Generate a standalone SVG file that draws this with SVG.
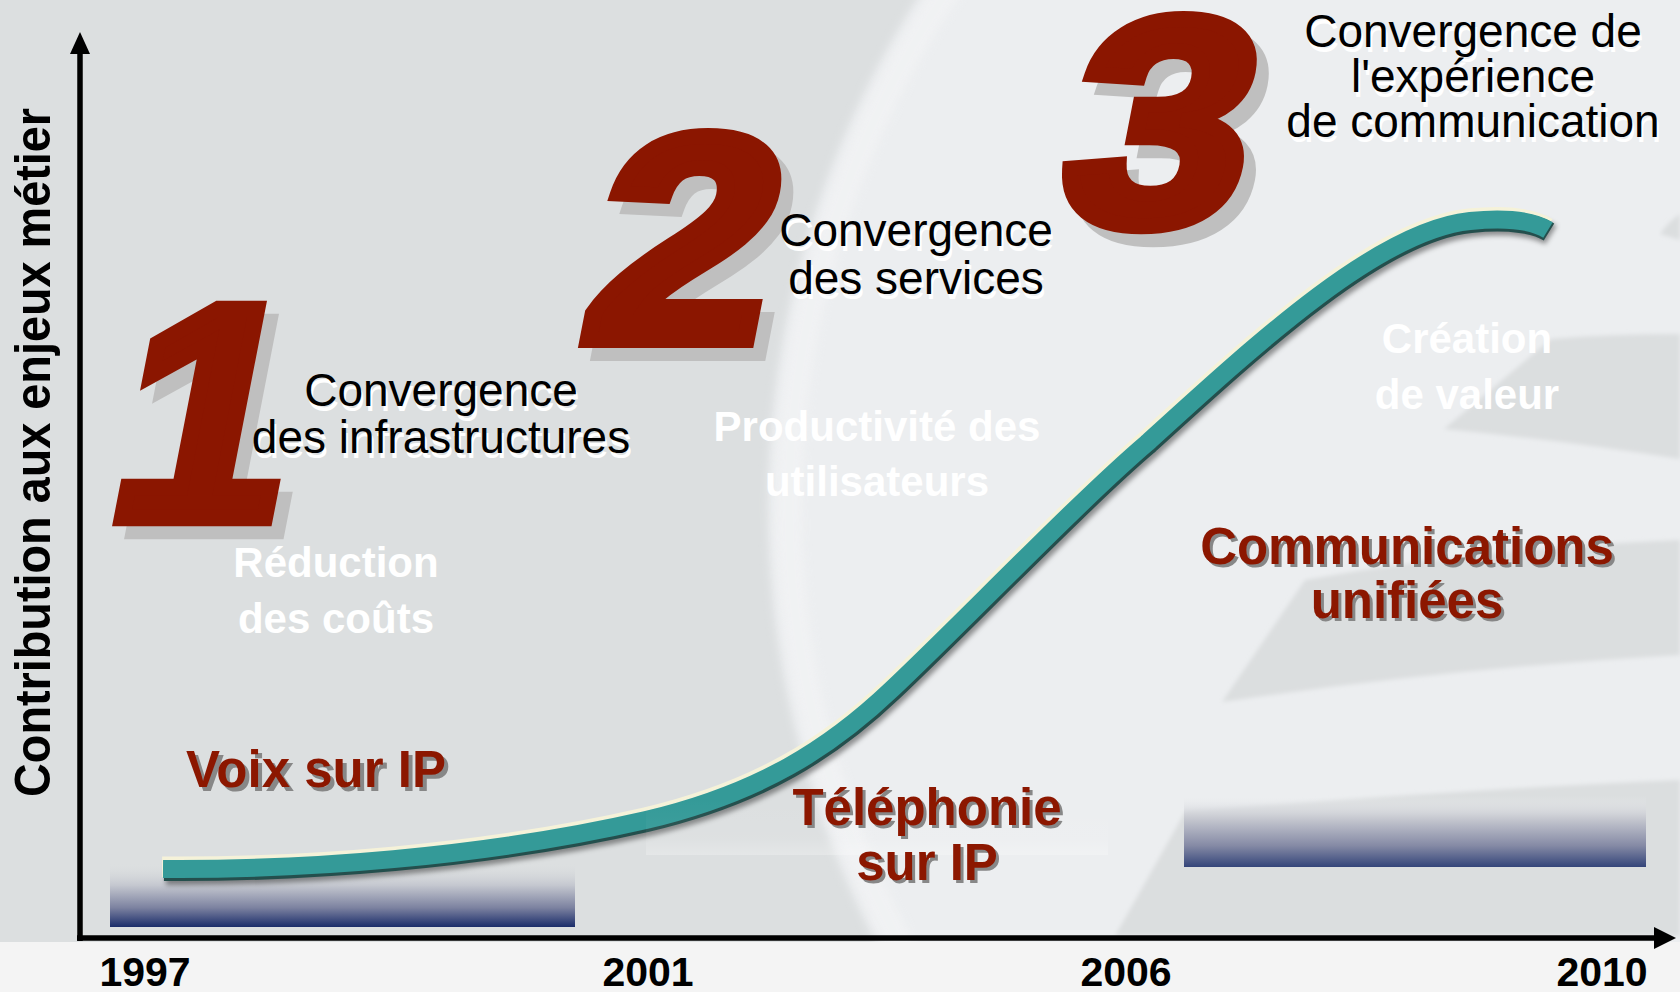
<svg xmlns="http://www.w3.org/2000/svg" width="1680" height="992" viewBox="0 0 1680 992">
<defs>
<style>
.f{font-family:"Liberation Sans",Arial,Helvetica,sans-serif}
.blk{font-size:46px;text-anchor:middle;fill:#000}
.blksh{font-size:46px;text-anchor:middle;fill:#fff}
.wht{font-size:42px;font-weight:bold;text-anchor:middle;fill:#fff}
.red{font-size:51px;font-weight:bold;text-anchor:middle;fill:#8c1700}
.redsh{font-size:51px;font-weight:bold;text-anchor:middle;fill:#878787}
.year{font-size:41px;font-weight:bold;text-anchor:middle;fill:#000}
.big{font-size:292px;font-weight:bold;text-anchor:middle;fill:#8b1600;stroke:#8b1600;stroke-width:16;stroke-linejoin:miter}
.bigsh{font-size:292px;font-weight:bold;text-anchor:middle;fill:#bfbfbf;stroke:#bfbfbf;stroke-width:16;stroke-linejoin:miter}
.axis{stroke:#000;stroke-width:5.5;fill:none}
.swoosh{fill:#dbdedf}
</style>
<filter id="soft" x="-10%" y="-10%" width="120%" height="120%"><feGaussianBlur stdDeviation="4"/></filter>
<filter id="soft2" x="-10%" y="-10%" width="120%" height="120%"><feGaussianBlur stdDeviation="2"/></filter>
<filter id="shadow" x="-5%" y="-20%" width="110%" height="140%"><feGaussianBlur stdDeviation="2.5"/></filter>
<linearGradient id="bar1" x1="0" y1="0" x2="0" y2="1">
<stop offset="0" stop-color="#dcdfe0" stop-opacity="0"/>
<stop offset="0.35" stop-color="#c4c7cf"/>
<stop offset="0.7" stop-color="#7c82a0"/>
<stop offset="1" stop-color="#1a2c6a"/>
</linearGradient>
<linearGradient id="bar2" x1="0" y1="0" x2="0" y2="1">
<stop offset="0" stop-color="#eceef0" stop-opacity="0"/>
<stop offset="0.3" stop-color="#c9cbd2"/>
<stop offset="0.7" stop-color="#858aa5"/>
<stop offset="1" stop-color="#34457a"/>
</linearGradient>
<linearGradient id="bar3" x1="0" y1="0" x2="0" y2="1">
<stop offset="0" stop-color="#ffffff" stop-opacity="0"/>
<stop offset="0.7" stop-color="#ffffff" stop-opacity="0.05"/>
<stop offset="1" stop-color="#ffffff" stop-opacity="0.25"/>
</linearGradient>
<path id="curvePath" d="M163,869 C300,870 480,858 646,820 C760,793 830,748 892,689 C960,625 1080,500 1147,443 C1260,340 1380,230 1470,221 C1510,217 1535,222 1548,230"/>
</defs>

<g id="background">
<rect x="0" y="0" width="1680" height="992" fill="#dcdfe0"/>
<circle cx="1704" cy="506" r="936" fill="#eceef0" filter="url(#soft)"/>
<circle cx="1704" cy="506" r="915" fill="none" stroke="#f2f3f4" stroke-width="26" opacity="0.8" filter="url(#soft)"/>
<path class="swoosh" filter="url(#soft2)" d="M1444,429 L1551,339 Q1610,334 1680,334 L1680,459 Q1560,440 1444,429 Z"/>
<path class="swoosh" filter="url(#soft2)" d="M1222,702 L1305,580 Q1480,548 1680,540 L1680,655 Q1450,668 1222,702 Z"/>
<path class="swoosh" filter="url(#soft2)" d="M1115,936 L1185,812 Q1450,790 1680,780 L1680,936 Z"/>
<path class="swoosh" filter="url(#soft2)" d="M1660,234 Q1668,222 1680,214 L1680,240 Z"/>
<rect x="0" y="942" width="1680" height="50" fill="#f4f4f4"/>
</g>

<g id="bars">
<rect x="110" y="863" width="465" height="64" fill="url(#bar1)"/>
<rect x="1184" y="796" width="462" height="71" fill="url(#bar2)"/>
</g>

<g id="axes">
<line class="axis" x1="80" y1="50" x2="80" y2="941"/>
<line class="axis" x1="77" y1="938" x2="1656" y2="938"/>
<polygon points="80,32 70,54 90,54" fill="#000"/>
<polygon points="1676,938 1654,927 1654,949" fill="#000"/>
</g>

<g id="curve" fill="none">
<use href="#curvePath" stroke="#000" stroke-opacity="0.4" stroke-width="22" transform="translate(3,5)" filter="url(#shadow)"/>
<use href="#curvePath" stroke="#f5f2d9" stroke-width="21" transform="translate(-1,-2)"/>
<use href="#curvePath" stroke="#244f4d" stroke-width="20" transform="translate(1,2)"/>
<use href="#curvePath" stroke="#349a98" stroke-width="18"/>
</g>

<g id="bar-telephonie">
<rect x="646" y="798" width="462" height="57" fill="url(#bar3)"/>
</g>

<g id="ylabel">
<text class="f" x="0" y="0" transform="translate(50,452.5) rotate(-90)" font-size="50" font-weight="bold" text-anchor="middle" textLength="689" lengthAdjust="spacingAndGlyphs">Contribution aux enjeux métier</text>
</g>

<g id="years">
<text class="f year" x="145" y="986">1997</text>
<text class="f year" x="648" y="986">2001</text>
<text class="f year" x="1126" y="986">2006</text>
<text class="f year" x="1602" y="986">2010</text>
</g>

<g id="step1">
<text class="f bigsh" transform="translate(200,531) skewX(-11) scale(1.05,1.04)">1</text>
<text class="f big" transform="translate(188,518) skewX(-11) scale(1.05,1.04)">1</text>
<text class="f blksh" x="443" y="411">Convergence</text>
<text class="f blksh" x="443" y="458">des infrastructures</text>
<text class="f blk" x="441" y="406">Convergence</text>
<text class="f blk" x="441" y="453">des infrastructures</text>
<text class="f wht" x="336" y="577">Réduction</text>
<text class="f wht" x="336" y="633">des coûts</text>
<text class="f redsh" x="320" y="791">Voix sur IP</text>
<text class="f red" x="316" y="787">Voix sur IP</text>
</g>

<g id="step2">
<text class="f bigsh" transform="translate(680,353) skewX(-11) scale(1.12,1)">2</text>
<text class="f big" transform="translate(668,340) skewX(-11) scale(1.12,1)">2</text>
<text class="f blksh" x="918" y="251">Convergence</text>
<text class="f blksh" x="918" y="299">des services</text>
<text class="f blk" x="916" y="246">Convergence</text>
<text class="f blk" x="916" y="294">des services</text>
<text class="f wht" x="877" y="441">Productivité des</text>
<text class="f wht" x="877" y="496">utilisateurs</text>
<text class="f redsh" x="930" y="828">Téléphonie</text>
<text class="f redsh" x="930" y="883">sur IP</text>
<text class="f red" x="927" y="825">Téléphonie</text>
<text class="f red" x="927" y="880">sur IP</text>
</g>

<g id="step3">
<text class="f bigsh" transform="translate(1156,236) skewX(-11) scale(1.12,1)">3</text>
<text class="f big" transform="translate(1144,223) skewX(-11) scale(1.12,1)">3</text>
<text class="f blksh" x="1475" y="52">Convergence de</text>
<text class="f blksh" x="1475" y="97">l'expérience</text>
<text class="f blksh" x="1475" y="142">de communication</text>
<text class="f blk" x="1473" y="47">Convergence de</text>
<text class="f blk" x="1473" y="92">l'expérience</text>
<text class="f blk" x="1473" y="137">de communication</text>
<text class="f wht" x="1467" y="353">Création</text>
<text class="f wht" x="1467" y="409">de valeur</text>
<text class="f redsh" x="1410" y="567">Communications</text>
<text class="f redsh" x="1410" y="621">unifiées</text>
<text class="f red" x="1407" y="564">Communications</text>
<text class="f red" x="1407" y="618">unifiées</text>
</g>
</svg>
